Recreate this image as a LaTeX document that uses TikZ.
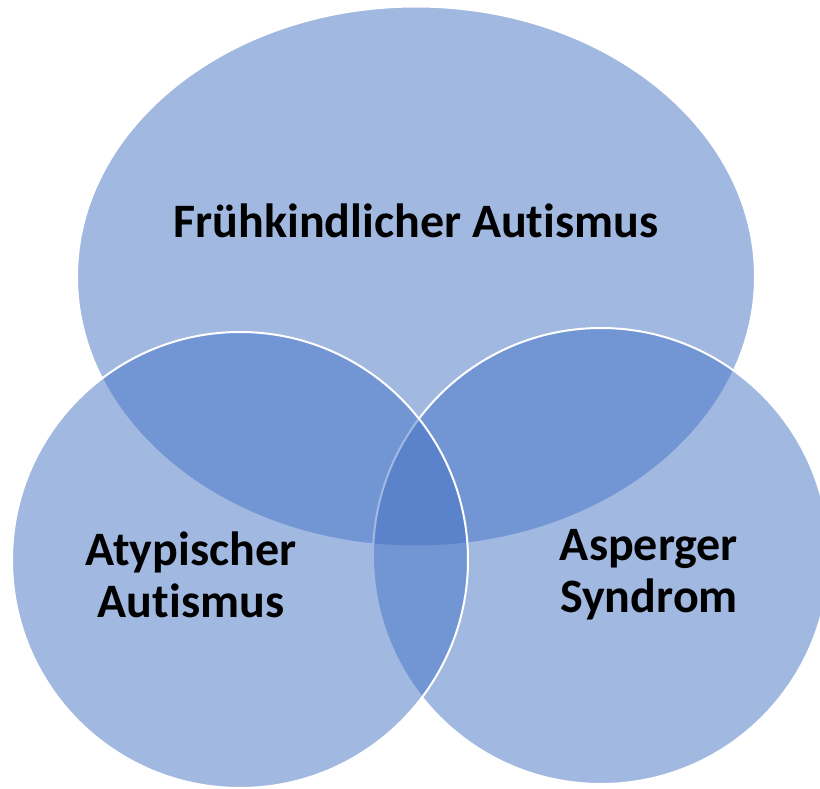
\documentclass[tikz,border=0pt]{standalone}
\usepackage{fontspec}
\setmainfont{Carlito}[Ligatures=NoCommon]
\usepackage{tikz}
\usetikzlibrary{shapes.geometric}

\definecolor{setblue}{HTML}{4472C4}

\begin{document}
\begin{tikzpicture}[x=1pt, y=-1pt
  , blob/.style={ fill=setblue, fill opacity=0.5
                , draw=white, line width=2pt
                , inner sep=0pt, outer sep=0pt }
  , settext/.style={ font=\fontsize{48}{52}\selectfont\bfseries
                   , align=center, inner sep=0pt, anchor=base }
  ]

  \useasboundingbox (0,0) rectangle (820,789);
  \clip (0,0) rectangle (820,789);

  % the three sets, the left circle last so its rim stays white
  \node [blob, ellipse, minimum width=678pt, minimum height=540pt] (early) at (416,276.5) {};
  \node [blob, circle, minimum size=456pt] (asperger) at (601,556) {};
  \node [blob, circle, minimum size=456pt] (atypical) at (240,560) {};

  % base = baseline of the last line
  \node [settext] (earlytext) at (416,237) {Frühkindlicher Autismus};
  \node [settext] (atypicaltext) at (191,617) {Atypischer\\Autismus};
  \node [settext] (aspergertext) at (649,612) {Asperger\\Syndrom};

\end{tikzpicture}
\end{document}
